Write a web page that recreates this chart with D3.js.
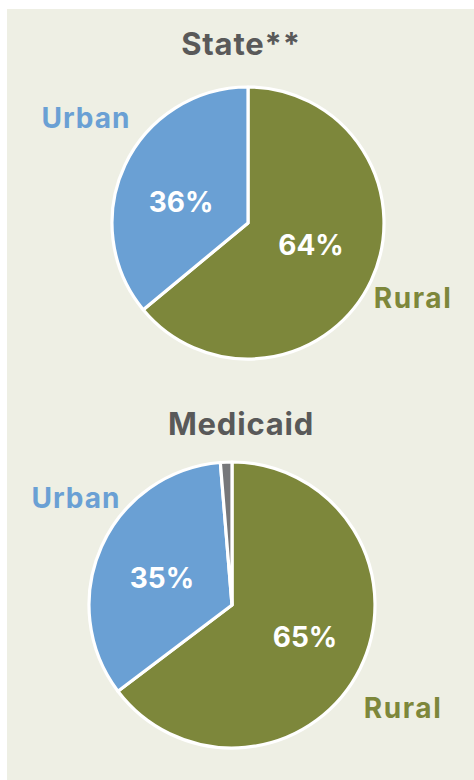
<!DOCTYPE html>
<html><head><meta charset="utf-8">
<script src="https://cdn.jsdelivr.net/npm/d3@7"></script>
<style>html,body{margin:0;padding:0;background:#fff;}svg{display:block;}</style>
</head><body>
<script>
// Data
const titles = ["State**", "Medicaid"];
const categories = ["Rural", "Urban", "Other"];
const stateValues = [64, 36, 0];
const medicaidValues = [64.7, 34.0, 1.3];
const stateLabels = ["64%", "36%"];
const medicaidLabels = ["65%", "35%"];

const W = 474, H = 780;
const colors = {Rural: "#7d873b", Urban: "#6aa0d4", Other: "#76777a"};
const FONT = "Inter, 'Open Sans', sans-serif";

const svg = d3.select("body").append("svg").attr("width", W).attr("height", H);
svg.append("rect").attr("x", 7).attr("y", 9).attr("width", W - 7).attr("height", H - 9).attr("fill", "#eeefe4");

const panels = [
  {title: titles[0], values: stateValues, labels: stateLabels, cx: 248, cy: 223, r: 136, titleY: 55,
   urban: [86, 128], rural: [413, 308], pctR: [311, 255], pctU: [181, 212]},
  {title: titles[1], values: medicaidValues, labels: medicaidLabels, cx: 232, cy: 605, r: 143, titleY: 435,
   urban: [76, 508], rural: [403, 718], pctR: [305, 647], pctU: [162, 588]}
];

const pie = d3.pie().sort(null).value(d => d.v).startAngle(0).endAngle(2 * Math.PI);

panels.forEach(p => {
  const data = categories.map((c, i) => ({c, v: p.values[i]})).filter(d => d.v > 0);
  const arc = d3.arc().innerRadius(0).outerRadius(p.r);
  const g = svg.append("g").attr("transform", `translate(${p.cx},${p.cy})`);
  g.selectAll("path").data(pie(data)).join("path")
    .attr("d", arc).attr("fill", d => colors[d.data.c])
    .attr("stroke", "#fff").attr("stroke-width", 3.2).attr("stroke-linejoin", "round");

  svg.append("text").attr("x", 241).attr("y", p.titleY).attr("text-anchor", "middle")
    .attr("font-family", FONT).attr("font-weight", 700).attr("font-size", 31).attr("fill", "#595959")
    .attr("letter-spacing", 0.8)
    .text(p.title);
  const lab = (pos, txt, fill, size, ls) => svg.append("text").attr("x", pos[0]).attr("y", pos[1])
    .attr("text-anchor", "middle").attr("font-family", FONT).attr("font-weight", 700)
    .attr("font-size", size).attr("letter-spacing", ls).attr("fill", fill).text(txt);
  lab(p.urban, categories[1], colors.Urban, 28, 1);
  lab(p.rural, categories[0], colors.Rural, 28, 1.6);
  lab(p.pctR, p.labels[0], "#fff", 28, 0);
  lab(p.pctU, p.labels[1], "#fff", 28, 0);
});
</script>
</body></html>
